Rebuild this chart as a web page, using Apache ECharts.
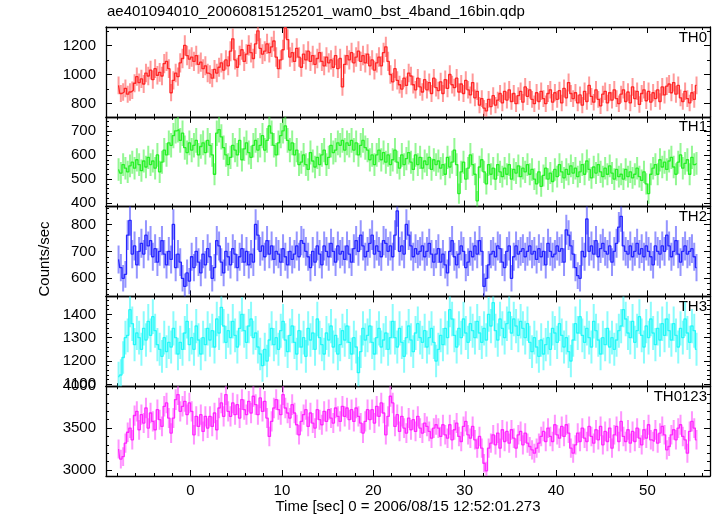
<!DOCTYPE html>
<html>
<head>
<meta charset="utf-8">
<script src="https://cdn.jsdelivr.net/npm/echarts@6/dist/echarts.min.js"></script>
<style>
html,body{margin:0;padding:0;background:#fff;}
#chart{width:717px;height:516px;}
</style>
</head>
<body>
<div id="chart"></div>
<script>
// ---- data: 0.25 s bins, first bin centre at -7.875 s ----
const binStart = -7.875;
const binWidth = 0.25;

const th0 = [
925,870,880,905,865,880,892,940,985,945,970,935,1010,990,1030,965,1040,995,1015,990,
1075,1090,1040,875,960,1010,985,1080,1110,1200,1130,1105,1120,1090,1130,1070,1085,1040,1060,1010,
1000,975,1035,1010,1050,1080,1030,1100,1060,1160,1245,1100,1050,1130,1170,1090,1140,1200,1150,1110,
1210,1300,1180,1140,1160,1210,1150,1190,1230,1120,1040,1100,1170,1320,1240,1120,1150,1090,1180,1120,
1050,1140,1100,1160,1090,1130,1070,1110,1150,1090,1060,1120,1080,1100,1050,1130,1040,1110,915,1070,
1130,1100,1150,1080,1120,1160,1090,1130,1080,1140,1060,1100,1030,1080,1120,1060,1150,1190,1090,1000,
950,1040,960,930,900,975,925,1010,990,930,895,975,915,880,965,895,945,870,975,910,
890,950,870,965,905,1000,930,910,975,880,935,870,960,895,860,945,840,885,790,835,
770,750,830,780,855,790,825,870,805,885,825,895,815,870,800,855,885,810,915,850,
895,830,800,875,815,885,835,800,870,895,810,875,830,890,805,905,840,945,870,835,
875,805,860,790,885,815,925,850,810,895,830,785,865,885,805,875,825,895,835,800,
865,895,815,880,805,915,835,885,795,870,895,820,885,810,875,835,895,815,915,860,
920,935,875,945,865,925,840,815,885,835,805,875,830,925
];
const th1 = [
540,525,560,545,530,555,570,545,580,560,535,575,550,590,560,575,545,600,530,570,
620,600,650,640,680,700,705,660,690,630,610,650,620,640,660,600,635,650,610,660,
640,600,520,690,705,675,630,600,560,590,640,620,600,660,580,625,650,610,590,640,
660,620,640,680,620,660,720,690,640,600,650,680,700,720,660,620,650,600,620,560,
570,600,560,540,610,575,550,590,560,600,620,560,590,640,610,620,650,640,660,620,
650,640,660,620,650,600,640,660,630,620,580,600,560,600,620,580,610,570,600,560,
580,620,570,545,600,560,585,610,570,540,600,560,590,545,575,560,590,540,580,560,
575,545,560,520,590,550,570,620,560,440,530,570,500,545,600,560,520,410,550,580,
530,480,560,520,545,500,560,530,510,545,520,560,500,540,525,555,510,545,530,560,
520,540,500,480,530,470,515,545,500,525,490,540,510,560,530,505,540,520,555,525,
545,510,530,560,520,575,540,505,550,525,560,530,510,545,520,555,525,500,540,510,
520,500,540,510,530,505,520,545,510,495,530,480,440,520,545,560,520,580,550,570,
540,575,590,550,520,570,600,545,565,580,520,590,560,565
];
const th2 = [
670,640,600,615,760,815,690,720,650,700,730,690,760,720,740,680,710,660,700,740,
690,650,700,670,800,640,690,660,600,570,620,590,680,640,700,660,620,690,650,710,
680,600,640,740,720,660,620,700,680,650,710,690,640,680,710,660,700,650,690,660,
800,760,700,720,680,740,690,720,670,700,690,660,710,680,650,700,670,690,720,680,
740,730,700,680,640,700,660,720,690,650,720,700,680,730,700,660,720,690,700,670,
720,690,660,710,740,700,760,720,680,700,730,760,690,720,700,680,740,730,700,720,
680,760,850,700,720,690,800,760,720,680,710,690,700,720,680,700,730,690,660,690,
710,660,690,650,620,700,740,680,650,690,720,700,640,660,700,680,720,690,740,700,
570,600,650,690,700,680,720,710,660,640,700,720,600,680,720,690,700,710,680,700,
720,690,700,670,710,680,700,650,730,700,680,690,720,700,710,660,780,760,720,690,
640,610,600,700,680,820,700,720,690,740,680,710,730,700,690,720,660,700,730,790,
830,720,700,690,720,680,700,730,690,710,680,720,700,680,650,720,700,690,720,700,
760,720,680,700,740,690,660,700,720,690,700,710,680,640
];
const th3 = [
1130,1140,1215,1300,1310,1420,1360,1270,1320,1300,1250,1340,1290,1370,1310,1390,1330,1270,1250,1220,
1300,1240,1280,1260,1340,1300,1230,1280,1250,1320,1370,1270,1300,1250,1350,1290,1230,1300,1270,1340,
1290,1330,1260,1380,1320,1430,1350,1280,1330,1300,1370,1310,1260,1340,1400,1330,1280,1350,1380,1300,
1320,1260,1230,1180,1250,1200,1290,1340,1270,1300,1250,1330,1370,1290,1240,1310,1350,1280,1230,1330,
1260,1300,1220,1340,1290,1320,1250,1380,1300,1270,1230,1320,1290,1350,1260,1310,1230,1270,1330,1290,
1350,1280,1230,1300,1260,1150,1240,1340,1290,1310,1350,1280,1230,1300,1340,1260,1290,1320,1250,1300,
1370,1300,1260,1340,1280,1220,1300,1350,1290,1240,1320,1360,1300,1280,1330,1260,1300,1340,1280,1200,
1250,1310,1270,1340,1300,1420,1380,1310,1260,1340,1300,1380,1320,1280,1360,1330,1300,1370,1320,1280,
1340,1290,1400,1350,1450,1330,1290,1380,1340,1300,1360,1410,1320,1380,1350,1310,1370,1340,1300,1360,
1280,1240,1300,1260,1220,1290,1230,1270,1300,1250,1340,1320,1280,1360,1310,1260,1300,1240,1200,1290,
1360,1320,1390,1310,1280,1340,1300,1260,1370,1330,1290,1230,1300,1270,1340,1260,1300,1250,1290,1330,
1350,1420,1380,1320,1300,1370,1280,1330,1390,1310,1260,1350,1300,1380,1320,1270,1340,1290,1360,1310,
1380,1330,1290,1360,1310,1260,1340,1300,1380,1320,1280,1350,1330,1250
];
const th0123 = [
3250,3130,3160,3320,3450,3500,3360,3650,3700,3480,3660,3560,3740,3500,3680,3580,3480,3720,3600,3520,
3760,3800,3620,3440,3620,3840,3900,3700,3760,3820,3660,3800,3700,3420,3640,3520,3660,3460,3640,3500,
3640,3520,3680,3480,3740,3800,3640,3900,3700,3640,3800,3660,3780,3620,3840,3720,3660,3820,3680,3880,
3780,3660,3860,3700,3820,3620,3400,3580,3740,3840,3720,3660,3900,3740,3680,3620,3780,3680,3540,3420,
3580,3660,3720,3520,3680,3560,3500,3720,3600,3540,3700,3580,3720,3620,3560,3740,3640,3580,3760,3640,
3740,3600,3720,3580,3740,3640,3560,3440,3580,3720,3600,3720,3560,3760,3640,3800,3680,3420,3640,3880,
3800,3520,3660,3460,3640,3500,3440,3620,3480,3600,3460,3640,3500,3440,3560,3520,3460,3380,3500,3540,
3500,3400,3540,3420,3380,3540,3360,3480,3560,3400,3340,3520,3580,3420,3380,3520,3360,3260,3400,3260,
3080,2990,3260,3320,3420,3300,3440,3260,3480,3340,3460,3320,3480,3380,3260,3420,3460,3300,3440,3320,
3280,3240,3200,3260,3320,3400,3460,3340,3500,3400,3340,3540,3420,3380,3520,3400,3540,3440,3260,3200,
3300,3440,3340,3500,3380,3340,3520,3400,3320,3480,3360,3520,3300,3460,3340,3500,3260,3420,3520,3340,
3580,3400,3340,3480,3320,3460,3340,3500,3380,3300,3480,3380,3540,3360,3340,3480,3320,3440,3520,3420,
3240,3280,3420,3480,3360,3500,3540,3400,3360,3200,3460,3580,3500,3360
];

const panelNames = ['TH0', 'TH1', 'TH2', 'TH3', 'TH0123'];
const xTickLabels = [0, 10, 20, 30, 40, 50];
const xMinorTicks = [-8, -6, -4, -2, 2, 4, 6, 8, 12, 14, 16, 18, 22, 24, 26, 28, 32, 34, 36, 38, 42, 44, 46, 48, 52, 54, 56];
const yTickLabels = [
  [800, 1000, 1200],
  [400, 500, 600, 700],
  [600, 700, 800],
  [1100, 1200, 1300, 1400],
  [3000, 3500, 4000]
];
const yMinorTicks = [
  [900, 1100, 1300],
  [420,440,460,480,520,540,560,580,620,640,660,680,720,740],
  [540,560,580,620,640,660,680,720,740,760,780,820,840,860],
  [1120,1140,1160,1180,1220,1240,1260,1280,1320,1340,1360,1380,1420,1440,1460],
  [3100,3200,3300,3400,3600,3700,3800,3900]
];

// ---- layout / style ----
const yRanges = [[710, 1326], [386, 758], [533, 866], [1092, 1477], [2928, 4000]];
const lineColors = ['#ff2626', '#26f026', '#2626ff', '#26f8f8', '#ff26ff'];
const barColors = ['rgba(255,70,70,0.55)', 'rgba(60,240,60,0.55)', 'rgba(60,60,255,0.55)', 'rgba(60,250,250,0.6)', 'rgba(255,60,255,0.55)'];
const FONT = "'Liberation Sans', Helvetica, Arial, sans-serif";
const xMin = -9.25, xMax = 56.85;
const gridLeft = 106, gridWidth = 604, gridTop0 = 27, gridH = 89.8;

const allSeries = [th0, th1, th2, th3, th0123];
const axisLineStyle = {color: '#000', width: 1.3};
const plainNum = v => String(Math.round(v));

const grids = [], xAxes = [], yAxes = [], series = [], graphics = [];

allSeries.forEach((vals, i) => {
  grids.push({left: gridLeft, width: gridWidth, top: gridTop0 + gridH * i, height: gridH});
  const last = i === allSeries.length - 1;
  const mkX = (pos, custom, len, showLine, showLabel) => ({
    type: 'value', gridIndex: i, min: xMin, max: xMax, position: pos,
    axisLine: {show: showLine, onZero: false, lineStyle: axisLineStyle},
    axisTick: {show: true, inside: true, length: len, customValues: custom, lineStyle: {color: '#000', width: 1}},
    axisLabel: showLabel ? {show: true, customValues: xTickLabels, formatter: plainNum, color: '#000', fontSize: 15, fontFamily: FONT, margin: 7} : {show: false},
    splitLine: {show: false}
  });
  const xBase = xAxes.length;
  xAxes.push(mkX('bottom', xTickLabels, 6, true, last));
  xAxes.push(mkX('bottom', xMinorTicks, 3, false, false));
  xAxes.push(mkX('top', xTickLabels, 6, true, false));
  xAxes.push(mkX('top', xMinorTicks, 3, false, false));

  const mkY = (pos, custom, len, showLine, showLabel) => ({
    type: 'value', gridIndex: i, min: yRanges[i][0], max: yRanges[i][1], position: pos,
    axisLine: {show: showLine, onZero: false, lineStyle: axisLineStyle},
    axisTick: {show: true, inside: true, length: len, customValues: custom, lineStyle: {color: '#000', width: 1}},
    axisLabel: showLabel ? {show: true, customValues: yTickLabels[i], formatter: plainNum, showMinLabel: true, showMaxLabel: true, color: '#000', fontSize: 15, fontFamily: FONT, margin: 10} : {show: false},
    splitLine: {show: false}
  });
  const yBase = yAxes.length;
  yAxes.push(mkY('left', yTickLabels[i], 6, true, true));
  yAxes.push(mkY('left', yMinorTicks[i], 3, false, false));
  yAxes.push(mkY('right', yTickLabels[i], 6, true, false));
  yAxes.push(mkY('right', yMinorTicks[i], 3, false, false));

  const pts = vals.map((v, k) => [binStart + binWidth * k, v, Math.sqrt(v * binWidth) / binWidth]);
  const barColor = barColors[i];
  series.push({
    type: 'custom', xAxisIndex: xBase, yAxisIndex: yBase, clip: true, silent: true,
    encode: {x: 0, y: 1},
    data: pts,
    renderItem: (params, api) => {
      const x = api.value(0), v = api.value(1), e = api.value(2);
      const p1 = api.coord([x, v - e]);
      const p2 = api.coord([x, v + e]);
      return {type: 'line', shape: {x1: p1[0], y1: p1[1], x2: p2[0], y2: p2[1]},
              style: {stroke: barColor, lineWidth: 2}};
    }
  });
  series.push({
    type: 'line', xAxisIndex: xBase, yAxisIndex: yBase, step: 'middle', showSymbol: false,
    silent: true, clip: true,
    data: pts.map(p => [p[0], p[1]]),
    lineStyle: {color: lineColors[i], width: 1.3}
  });
  graphics.push({
    type: 'text', right: 10, top: gridTop0 + gridH * i + 3,
    style: {text: panelNames[i], font: '15px ' + FONT, fill: '#000'}
  });
});

graphics.push({
  type: 'text', left: 107, top: 4,
  style: {text: 'ae401094010_20060815125201_wam0_bst_4band_16bin.qdp', font: '15px ' + FONT, fill: '#000'}
});
graphics.push({
  type: 'text', x: 45, y: 259, rotation: Math.PI / 2,
  style: {text: 'Counts/sec', font: '15px ' + FONT, fill: '#000', align: 'center', verticalAlign: 'middle'}
});
graphics.push({
  type: 'text', x: 408, y: 507,
  style: {text: 'Time [sec] 0 = 2006/08/15 12:52:01.273', font: '15px ' + FONT, fill: '#000', align: 'center', verticalAlign: 'middle'}
});

const chart = echarts.init(document.getElementById('chart'), null, {renderer: 'canvas'});
chart.setOption({
  animation: false,
  backgroundColor: '#fff',
  grid: grids,
  xAxis: xAxes,
  yAxis: yAxes,
  series: series,
  graphic: graphics
});
</script>
</body>
</html>
